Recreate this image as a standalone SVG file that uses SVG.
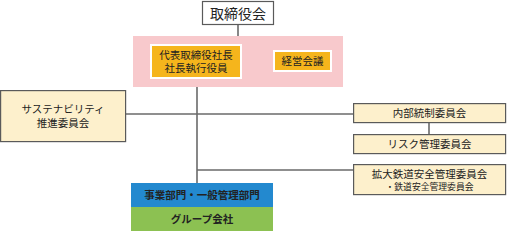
<svg xmlns="http://www.w3.org/2000/svg" width="507" height="231" viewBox="0 0 507 231">
<style>
text{font-family:"Noto Sans CJK JP","Noto Sans",sans-serif;fill:#222;text-anchor:middle}
.t{font-size:10.5px}
.s{font-size:8.8px}
.box{fill:#fdf0cc;stroke:#5a5a5a;stroke-width:1.2}
.ln{stroke:#6a6a6a;stroke-width:1.6;fill:none}
</style>
<g id="connectors">
<line class="ln" x1="238" y1="25" x2="238" y2="36"/>
<line class="ln" x1="242" y1="61" x2="273" y2="61"/>
<line class="ln" x1="197" y1="79" x2="197" y2="183"/>
<line class="ln" x1="126" y1="114" x2="353" y2="114"/>
<line class="ln" x1="197" y1="170" x2="353" y2="170"/>
<line class="ln" x1="429" y1="123" x2="429" y2="134"/>
</g>
<g id="board">
<rect x="202.5" y="1.5" width="71" height="23" fill="#fff" stroke="#5a5a5a" stroke-width="1.2"/>
<text x="238" y="18.5" font-size="14">取締役会</text>
</g>
<g id="exec-area">
<rect x="133" y="36" width="210" height="51" fill="#f8c9cc"/>
</g>
<g id="president">
<rect x="151" y="45" width="90" height="33" fill="#f5b51c" stroke="#fff" stroke-width="2"/>
<text class="t" x="196" y="59">代表取締役社長</text>
<text class="t" x="196" y="72">社長執行役員</text>
</g>
<g id="management-meeting">
<rect x="274" y="51" width="57" height="20" fill="#f5b51c" stroke="#fff" stroke-width="2"/>
<text class="t" x="302.5" y="65">経営会議</text>
</g>
<g id="sustainability">
<rect class="box" x="0.6" y="90.6" width="125" height="51"/>
<text class="t" x="63" y="113">サステナビリティ</text>
<text class="t" x="63" y="127">推進委員会</text>
</g>
<g id="internal-control">
<rect class="box" x="353.6" y="103.6" width="152" height="19"/>
<text class="t" x="429.5" y="117">内部統制委員会</text>
</g>
<g id="risk">
<rect class="box" x="353.6" y="134.6" width="152" height="19"/>
<text class="t" x="429.5" y="148">リスク管理委員会</text>
</g>
<g id="railway-safety">
<rect class="box" x="353.6" y="164.6" width="152" height="30"/>
<text class="t" x="429.5" y="178">拡大鉄道安全管理委員会</text>
<text class="s" x="429.5" y="190">・鉄道安全管理委員会</text>
</g>
<g id="divisions">
<rect x="131" y="183" width="142" height="24" fill="#2389cf"/>
<text class="t" x="202" y="199" font-weight="bold" font-size="10.5">事業部門・一般管理部門</text>
</g>
<g id="group-companies">
<rect x="131" y="207" width="142" height="24" fill="#8cc152"/>
<text class="t" x="202" y="223" font-weight="bold">グループ会社</text>
</g>
</svg>
